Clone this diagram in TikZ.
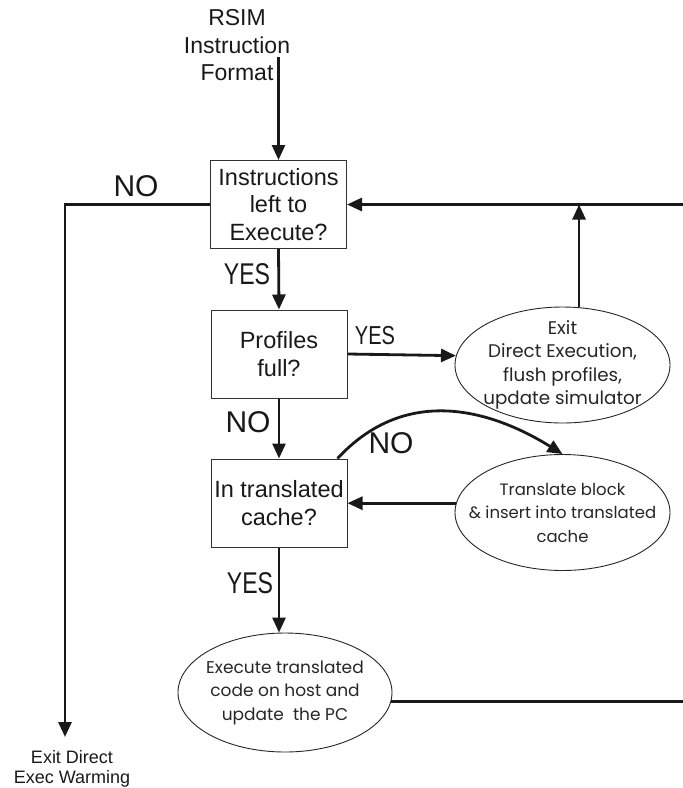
\documentclass[tikz,border=0pt]{standalone}
\usepackage{fontspec}
\setmainfont{Liberation Sans}
\newfontfamily\narrowfont[FakeStretch=0.77]{Liberation Sans}
\newfontfamily\geofont{Poppins}
\usetikzlibrary{shapes.geometric,arrows.meta}
\begin{document}
\begin{tikzpicture}[x=1pt,y=-1pt,
  box/.style={draw=black!80, line width=1pt, minimum width=136pt, minimum height=88pt, inner sep=0pt, align=center, font=\fontsize{23.5}{27.5}\selectfont, text=black!90},
  oval/.style={draw=black!85, line width=0.9pt, ellipse, inner sep=0pt, minimum width=215pt, minimum height=116pt},
  otext/.style={align=center, inner sep=0pt, font=\geofont\fontsize{17}{23.5}\selectfont, text=black!85},
  conn/.style={line width=2.8pt, draw=black!90},
  arr/.style={conn, -{Triangle[length=15pt,width=13pt]}},
  lab/.style={inner sep=0pt, font=\fontsize{30}{30}\selectfont, text=black!90},
  ylab/.style={inner sep=0pt, font=\narrowfont\fontsize{30}{30}\selectfont, text=black!90},
  plain/.style={inner sep=0pt, align=center, text=black!90},
]
\path[use as bounding box] (0,0) rectangle (683,788);

% boxes
\node[box] (b1) at (278.5,204.5) {Instructions\\left to\\Execute?};
\node[box] (b2) at (279,354) {Profiles\\full?};
\node[box] (b3) at (279,503) {In translated\\cache?};

% ellipses
\node[oval] (exit) at (562.5,365) {};
\node[otext, font=\geofont\fontsize{18.3}{23.5}\selectfont] (exitt) at (exit.center) {Exit\\Direct Execution,\\flush profiles,\\update simulator};
\node[oval] (tr) at (562.5,512.5) {};
\node[otext, font=\geofont\fontsize{16.5}{23.5}\selectfont] (trt) at (tr.center) {Translate block\\\& insert into translated\\cache};
\node[oval, minimum width=214pt, minimum height=119pt] (ex) at (285,692.5) {};
\node[otext] (ext) at (ex.center) {Execute translated\\code on host and\\update \ the PC};

% texts
\node[plain, font=\fontsize{23}{27.5}\selectfont] (inp) at (237,45.3) {RSIM\\Instruction\\Format};
\node[plain, anchor=north, font=\fontsize{18}{20.5}\selectfont] (exd) at (72,750) {Exit Direct\\Exec Warming};

% coordinates
\coordinate (inpt) at (278.5,57);
\coordinate (tr1) at (683,204.5);
\coordinate (br) at (683,703);
\coordinate (lc) at (65,204.5);
\coordinate (lend) at (65,737);

% connectors
\draw[arr] (inpt) -- (b1.north);
\draw[arr] (tr1) -- (b1.east);
\draw[arr] (exit.74) -- (exit.74 |- b1.east);
\draw[arr] (b1.south) -- (b2.north);
\draw[arr] (b2.east) -- (exit.175);
\draw[arr] (b2.south) -- (b3.north);
\draw[arr] (tr.175) -- (tr.175 -| b3.east);
\draw[arr] ([xshift=-10pt]b3.north east) .. controls (407,383.4) and (493,411) .. (tr.north);
\draw[arr] (b3.south) -- (b3.south |- ex.north);
\draw[conn] (ex.-5) -- (ex.-5 -| br);
\draw[arr] (b1.west) -- (lc) -- (lend);

% labels
\node[ylab] at (247,274) {YES};
\node[ylab, font=\narrowfont\fontsize{26}{26}\selectfont] at (375,336) {YES};
\node[lab] at (248,422.5) {NO};
\node[lab] at (391,443) {NO};
\node[ylab] at (250,583) {YES};
\node[lab] at (136,186) {NO};
\end{tikzpicture}
\end{document}
